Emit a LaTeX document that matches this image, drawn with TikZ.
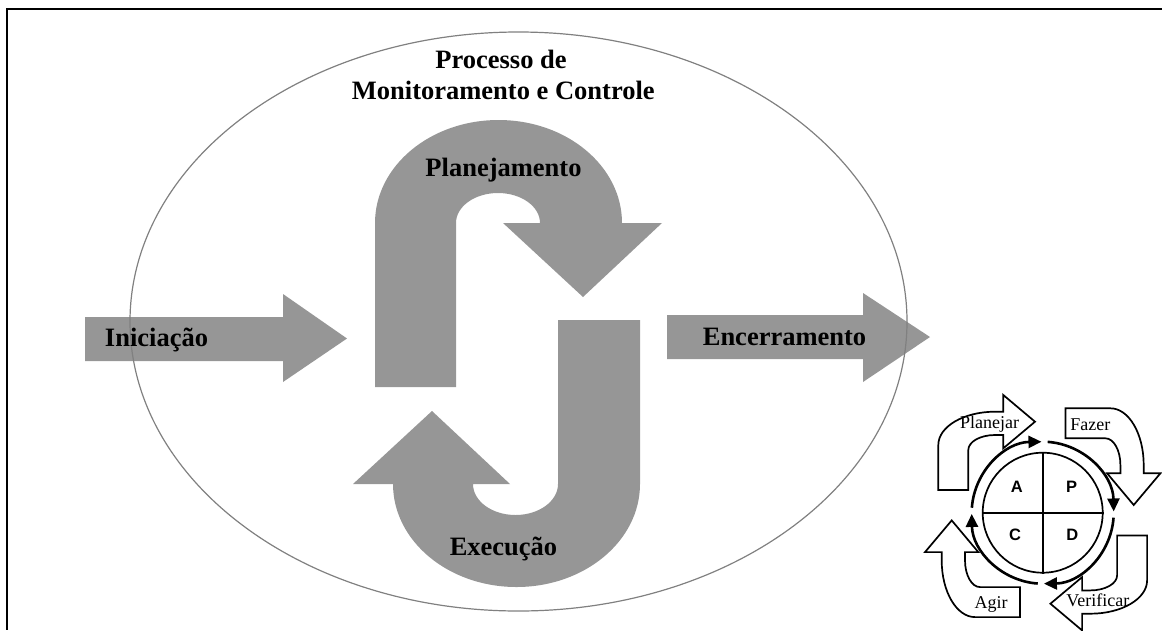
\documentclass[tikz,border=0pt]{standalone}
\usepackage{fontspec}
\setmainfont{Liberation Serif}
\newfontfamily\pdcasans{Liberation Sans}
\usetikzlibrary{arrows.meta}
\definecolor{blockgray}{RGB}{150,150,150}
\definecolor{rimgray}{RGB}{128,128,128}

\begin{document}
\begin{tikzpicture}[x=1pt,y=1pt,
  block/.style={fill=blockgray, draw=none},
  phase/.style={font=\fontsize{26.5}{31}\selectfont\bfseries, anchor=base, inner sep=0pt},
  cyclab/.style={font=\fontsize{18}{20}\selectfont, anchor=base, inner sep=0pt},
  quad/.style={font=\pdcasans\bfseries\fontsize{16.5}{18}\selectfont, anchor=base, inner sep=0pt},
  turn/.style={draw=black, line width=1.7pt, fill=white, line join=miter},
  ring/.style={line width=2.6pt, -{Triangle[length=13pt,width=12pt]}},
  wheel/.style={circle, draw, line width=1.7pt, minimum size=120pt, inner sep=0pt},
]
\useasboundingbox (0,0) rectangle (1162,-630);

% frame (top and left edges)
\draw[line width=2.2pt] (1162,-9.3) -- (7.3,-9.3) -- (7.3,-630);

% straight phase arrows
\fill[block] (85,-317) -- (283,-317) -- (283,-294) -- (347,-338.5) -- (283,-382)
  -- (283,-361) -- (85,-361) -- cycle;
\fill[block] (667,-315) -- (863,-315) -- (863,-293) -- (930,-337) -- (863,-382)
  -- (863,-359) -- (667,-359) -- cycle;

% planning U-turn arrow
\fill[block] (375,-387) -- (375,-223)
  arc[start angle=180, end angle=0, x radius=123.5pt, y radius=103pt]
  -- (662,-223) -- (583,-297) -- (503,-223) -- (540,-223)
  arc[start angle=0, end angle=180, x radius=42pt, y radius=30pt]
  -- (456,-387) -- cycle;

% execution U-turn arrow
\fill[block] (640,-320) -- (640,-484)
  arc[start angle=0, end angle=-180, x radius=123.5pt, y radius=103pt]
  -- (353,-484) -- (432,-411) -- (510,-484) -- (473,-484)
  arc[start angle=180, end angle=360, x radius=42.5pt, y radius=31pt]
  -- (558,-320) -- cycle;

% monitoring and control ellipse
\draw[rimgray, line width=1.2pt] (518.5,-321.5) ellipse[x radius=388.5pt, y radius=289.5pt];

% phase labels
\node[phase] (proc)  at (501,-68)    {Processo de};
\node[phase] (monit) at (503.3,-99)  {Monitoramento e Controle};
\node[phase] (plan)  at (503.5,-176.7) {Planejamento};
\node[phase] (exec)  at (503.5,-555) {Execução};
\node[phase] (inic)  at (156.5,-346.7) {Iniciação};
\node[phase] (encer) at (784.5,-345) {Encerramento};

% PDCA cycle: four bent arrows, one shape turned in quarter steps
\begin{scope}[shift={(1042.7,-512.7)}]
  \foreach \r in {0,-90,-180,-270} {
    \draw[turn, rotate=\r] (-104.4,22.7) -- (-74.4,22.7) -- (-74.4,62.7)
      arc[start angle=180, end angle=90, x radius=26.7pt, y radius=15pt]
      -- (-39.4,77.7) -- (-39.4,64.4) -- (-7.7,91) -- (-39.4,117.7) -- (-39.4,101)
      -- (-47.7,101)
      arc[start angle=90, end angle=180, x radius=56.7pt, y radius=33.3pt]
      -- cycle;
  }
  \foreach \s in {176,86,-4,-94} {
    \draw[ring] (\s:71pt) arc[start angle=\s, end angle=\s-85, radius=71pt];
  }
\end{scope}

\node[wheel] (pdca) at (1042.7,-512.7) {};
\draw[line width=1.7pt] (pdca.north) -- (pdca.south);
\draw[line width=1.7pt] (pdca.west) -- (pdca.east);

\node[quad] (qa) at (1016.7,-492.7) {A};
\node[quad] (qp) at (1071.7,-492.7) {P};
\node[quad] (qc) at (1015,-540.7)   {C};
\node[quad] (qd) at (1072.3,-540.7) {D};

\node[cyclab] (lp) at (989.7,-428.3)  {Planejar};
\node[cyclab] (lf) at (1090.3,-430)   {Fazer};
\node[cyclab] (lv) at (1097.8,-606.7) {Verificar};
\node[cyclab] (la) at (991.2,-608.3)  {Agir};
\end{tikzpicture}
\end{document}
